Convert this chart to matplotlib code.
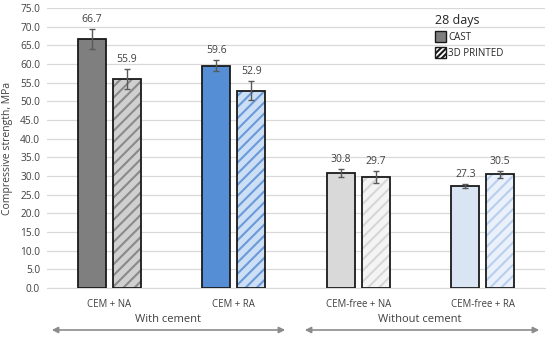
import matplotlib
matplotlib.use("Agg")
import matplotlib.pyplot as plt
import numpy as np
from matplotlib.patches import Patch, FancyArrowPatch

plt.rcParams['font.family'] = ['Open Sans', 'DejaVu Sans']
plt.rcParams['hatch.linewidth'] = 1.5

categories = ["CEM + NA", "CEM + RA", "CEM-free + NA", "CEM-free + RA"]
cast_vals = [66.7, 59.6, 30.8, 27.3]
cast_err = [2.6, 1.5, 1.0, 0.5]
printed_vals = [55.9, 52.9, 29.7, 30.5]
printed_err = [2.7, 2.6, 1.7, 0.9]
yticks = np.arange(0, 75.1, 5.0)

cast_colors = ["#7f7f7f", "#558ed5", "#d9d9d9", "#dae5f4"]
printed_face = ["#d0d0d0", "#cddff5", "#f4f4f4", "#eaf1fb"]
printed_hatch = ["#8a8a8a", "#6a9ada", "#d6d6d6", "#b9cfee"]

fig = plt.figure(figsize=(5.5, 3.38), dpi=100)
ax = fig.add_axes([0.0855, 0.148, 0.9055, 0.828])

x = np.arange(len(categories))
w = 0.225
off = 0.14
txtc = "#404040"

for i in range(len(categories)):
    ax.bar(x[i] - off, cast_vals[i], w, color=cast_colors[i], edgecolor="#1a1a1a",
           linewidth=1.3, zorder=3)
    ax.bar(x[i] + off, printed_vals[i], w, color=printed_face[i], edgecolor=printed_hatch[i],
           hatch="///", linewidth=0, zorder=3)
    ax.bar(x[i] + off, printed_vals[i], w, color="none", edgecolor="#1a1a1a",
           linewidth=1.3, zorder=4)
    ax.errorbar(x[i] - off, cast_vals[i], yerr=cast_err[i], fmt="none", ecolor="#595959",
                elinewidth=1, capsize=2.5, capthick=1, zorder=5)
    ax.errorbar(x[i] + off, printed_vals[i], yerr=printed_err[i], fmt="none", ecolor="#595959",
                elinewidth=1, capsize=2.5, capthick=1, zorder=5)
    ax.annotate(f"{cast_vals[i]:.1f}", (x[i] - off, cast_vals[i] + cast_err[i]),
                xytext=(0, 3), textcoords="offset points", ha="center", va="bottom",
                fontsize=7.5, color=txtc, zorder=6)
    ax.annotate(f"{printed_vals[i]:.1f}", (x[i] + off, printed_vals[i] + printed_err[i]),
                xytext=(0, 3), textcoords="offset points", ha="center", va="bottom",
                fontsize=7.5, color=txtc, zorder=6)

ax.set_xlim(-0.5, 3.5)
ax.set_ylim(0, 75)
ax.set_yticks(yticks)
ax.set_yticklabels([f"{v:.1f}" for v in yticks], fontsize=7.3, color=txtc)
ax.set_xticks(x)
ax.set_xticklabels(categories, fontsize=6.9, color=txtc)
ax.tick_params(length=0, pad=8)
ax.tick_params(axis="y", pad=5)
ax.grid(axis="y", color="#d9d9d9", linewidth=0.9, zorder=0)
for s in ["top", "right", "left"]:
    ax.spines[s].set_visible(False)
ax.spines["bottom"].set_color("#d9d9d9")
ax.set_ylabel("Compressive strength, MPa", fontsize=7.5, color=txtc, labelpad=5)

# group arrows
fig.text(168 / 550, 1 - 320 / 338, "With cement", ha="center", va="center", fontsize=8, color=txtc)
fig.text(420 / 550, 1 - 320 / 338, "Without cement", ha="center", va="center", fontsize=8, color=txtc)
ya = 1 - 330 / 338
arrow_kw = dict(arrowstyle="<|-|>", color="#8c8c8c", lw=1.2, mutation_scale=9)
fig.patches.append(FancyArrowPatch((49 / 550, ya), (288 / 550, ya),
                   transform=fig.transFigure, **arrow_kw))
fig.patches.append(FancyArrowPatch((302 / 550, ya), (542 / 550, ya),
                   transform=fig.transFigure, **arrow_kw))

# legend
handles = [Patch(facecolor="#7f7f7f", edgecolor="#1a1a1a", linewidth=1),
           Patch(facecolor="white", edgecolor="#1a1a1a", hatch="//////", linewidth=1)]
leg = ax.legend(handles, ["CAST", "3D PRINTED"], loc="upper left",
                bbox_to_anchor=(428 / 550, 1 - 7 / 338), bbox_transform=fig.transFigure,
                frameon=False, fontsize=7, title="28 days", title_fontsize=9,
                handlelength=1.1, handleheight=1.3, handletextpad=0.25, labelspacing=0.45,
                alignment="left", borderpad=0.2)
for t in leg.get_texts():
    t.set_color("#262626")
leg.get_title().set_color("#262626")

fig.savefig("out.png", dpi=100)
